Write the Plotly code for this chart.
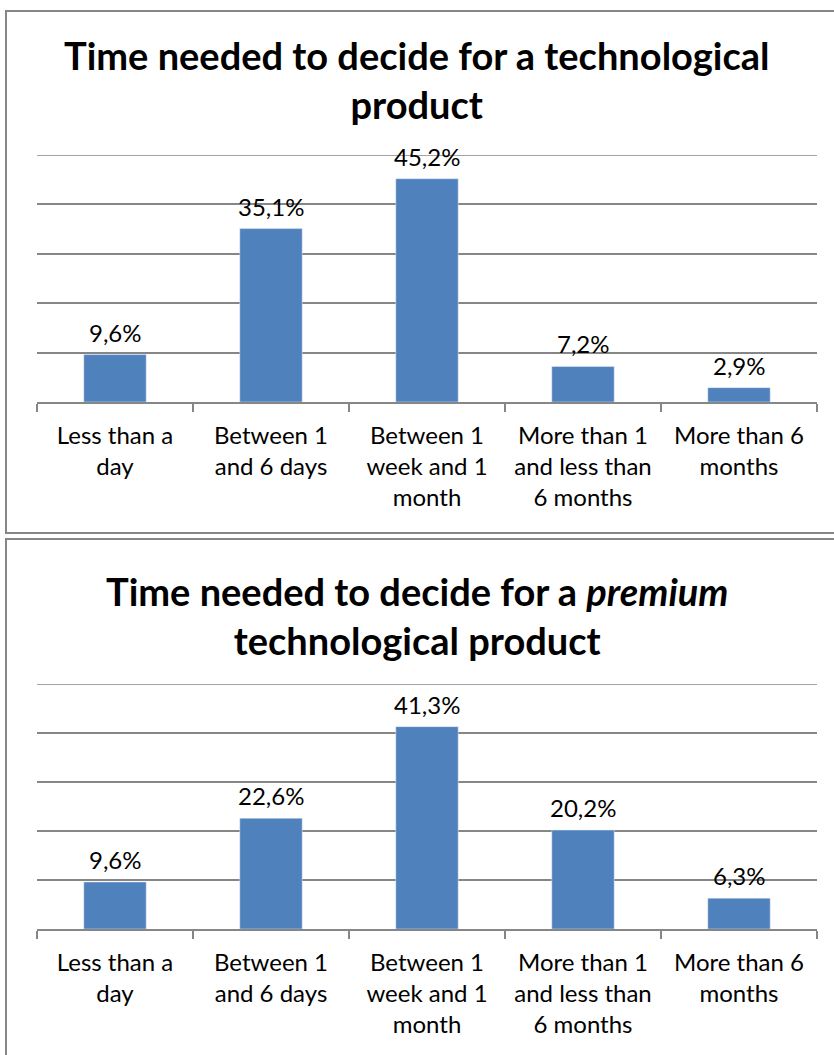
import plotly.graph_objects as go

categories = [
    "Less than a<br>day",
    "Between 1<br>and 6 days",
    "Between 1<br>week and 1<br>month",
    "More than 1<br>and less than<br>6 months",
    "More than 6<br>months",
]
share_any = [9.6, 35.1, 45.2, 7.2, 2.9]
share_premium = [9.6, 22.6, 41.3, 20.2, 6.3]

titles = [
    "<b>Time needed to decide for a technological<br>product</b>",
    "<b>Time needed to decide for a <i>premium</i><br>technological product</b>",
]

W, H = 834, 1055
FONT = "Lato"
BAR = "#4F81BD"
GRID = "#868686"


def py(px):
    """Pixel row (from top) to paper fraction."""
    return 1 - px / H


def px_x(px):
    return px / W


def pct(v):
    return f"{v:.1f}".replace(".", ",") + "%"


fig = go.Figure()

panels = [
    dict(values=share_any, top=155, base=402, box=(11, 533), title_y=57, xa="x", ya="y"),
    dict(values=share_premium, top=684, base=929, box=(539, 1062), title_y=593, xa="x2", ya="y2"),
]

for i, p in enumerate(panels):
    fig.add_trace(go.Bar(
        x=categories, y=p["values"], marker_color=BAR, width=0.4,
        xaxis=p["xa"], yaxis=p["ya"], showlegend=False, hoverinfo="skip",
    ))
    for c, v in zip(categories, p["values"]):
        fig.add_annotation(
            x=c, y=v, xref=p["xa"], yref=p["ya"], text=pct(v), showarrow=False,
            yanchor="bottom", yshift=6, font=dict(family=FONT, size=24, color="#000"),
        )
    fig.add_annotation(
        x=0.5, y=py(p["title_y"] - 27), xref="paper", yref="paper", text=titles[i],
        showarrow=False, yanchor="top", xanchor="center",
        font=dict(family=FONT, size=38, color="#000"),
    )
    # chart frame (open on the right, as it runs off the page)
    fig.add_shape(
        type="rect", xref="paper", yref="paper",
        x0=px_x(6), x1=px_x(850), y0=py(p["box"][1]), y1=py(p["box"][0]),
        line=dict(color=GRID, width=2), fillcolor="rgba(0,0,0,0)",
    )
    # gridline at the top of the value range
    fig.add_shape(
        type="line", xref=p["xa"] + " domain", yref=p["ya"],
        x0=0, x1=1, y0=50, y1=50, line=dict(color=GRID, width=1.5),
    )

    suffix = "" if i == 0 else "2"
    fig.layout["xaxis" + suffix] = dict(
        domain=[px_x(37), px_x(817)], anchor="y" + suffix,
        type="category", tickson="boundaries", ticks="outside", ticklen=8,
        tickcolor=GRID, tickwidth=1.5, showline=True, linecolor=GRID, linewidth=1.5,
        showgrid=False, tickfont=dict(family=FONT, size=24, color="#000"),
        ticklabelstandoff=11, fixedrange=True,
    )
    fig.layout["yaxis" + suffix] = dict(
        domain=[py(p["base"]), py(p["top"])], anchor="x" + suffix,
        range=[0, 50], tickvals=[10, 20, 30, 40], showgrid=True,
        gridcolor=GRID, gridwidth=1.5,
        showticklabels=False, zeroline=False, showline=False, fixedrange=True,
    )

fig.update_layout(
    width=W, height=H, margin=dict(l=0, r=0, t=0, b=0),
    paper_bgcolor="white", plot_bgcolor="white", bargap=0.6,
    font=dict(family=FONT),
)

fig.write_html("out.html", config={"displayModeBar": False})
